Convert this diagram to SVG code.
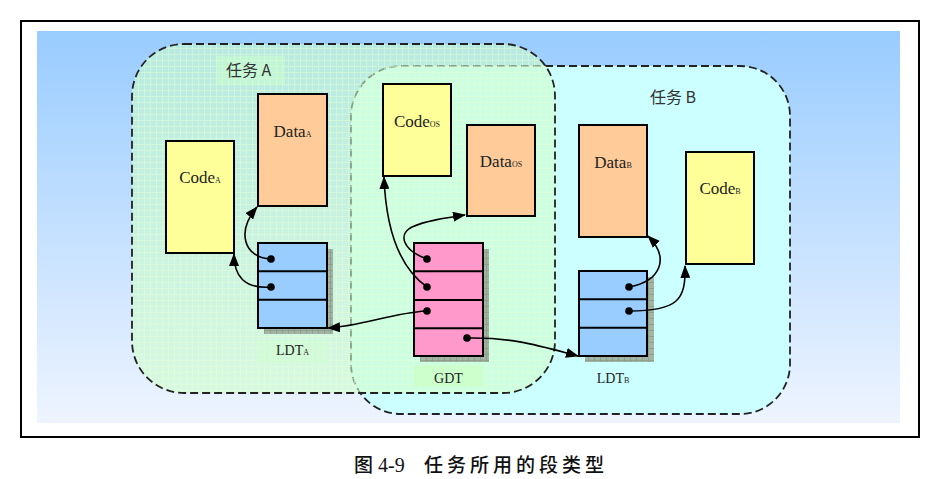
<svg xmlns="http://www.w3.org/2000/svg" width="952" height="479" viewBox="0 0 952 479">
<style>
.box{stroke:#000;stroke-width:2}
.code{fill:#FFFF99}
.data{fill:#FFCC99}
.ldt{fill:#99CCFF}
.gdt{fill:#FF99CC}
.row{stroke:#000;stroke-width:2}
.lbl{font-family:"Liberation Serif","Noto Sans CJK SC",serif;font-size:17px;fill:#222;text-anchor:middle}
.tl{font-family:"Liberation Serif","Noto Sans CJK SC",serif;font-size:14px;fill:#222;text-anchor:middle}
.sub{font-size:8px}
.task{font-family:"Noto Sans CJK SC",serif;font-size:16px;fill:#333}
.dash{fill:none;stroke:#222;stroke-width:1.8;stroke-dasharray:8 4}
.conn{fill:none;stroke:#000;stroke-width:1.6;marker-end:url(#arr)}
.dot{fill:#000}
.shadow{fill:url(#sg)}
</style>
<defs>
<linearGradient id="bg" x1="0" y1="0" x2="0" y2="1">
<stop offset="0" stop-color="#99CCFF"/>
<stop offset="1" stop-color="#EEF4FF"/>
</linearGradient>
<pattern id="grid" width="6" height="6" patternUnits="userSpaceOnUse">
<path d="M0,0.5H6M0.5,0V6" stroke="#E8FFD0" stroke-width="1" opacity="0.45"/>
</pattern>
<pattern id="sg" width="6" height="6" patternUnits="userSpaceOnUse">
<rect width="6" height="6" fill="#A4B4A4"/>
<path d="M0,0.5H6M0.5,0V6" stroke="#8FA08F" stroke-width="1"/>
</pattern>
<marker id="arr" markerWidth="13" markerHeight="10" refX="12" refY="5" orient="auto" markerUnits="userSpaceOnUse">
<path d="M0,0 L13,5 L0,10 z" fill="#000"/>
</marker>
</defs>

<rect x="21" y="21" width="898" height="416" fill="#fff" stroke="#000" stroke-width="2"/>
<rect x="37" y="31" width="863" height="392" fill="url(#bg)"/>

<g id="taskB">
<rect x="351" y="66" width="439" height="348" rx="50" ry="50" fill="#CCFFFF"/>
<rect class="dash" x="351" y="66" width="439" height="348" rx="50" ry="50"/>
</g>
<g id="taskA">
<rect x="132" y="44" width="423" height="349" rx="52" ry="52" fill="#CCFFCC" fill-opacity="0.58"/>
<rect x="132" y="44" width="423" height="349" rx="52" ry="52" fill="url(#grid)"/>
<rect class="dash" x="132" y="44" width="423" height="349" rx="52" ry="52"/>
</g>

<g id="labelTaskA">
<rect x="216" y="56" width="69" height="29" fill="#CCFFCC" fill-opacity="0.5"/>
<text class="task" x="226" y="76">任务 A</text>
</g>
<g id="labelTaskB">
<text class="task" x="650" y="103">任务 B</text>
</g>

<g id="codeA">
<rect class="box code" x="166" y="141" width="68" height="112"/>
<text class="lbl" x="200" y="183">Code<tspan class="sub">A</tspan></text>
</g>
<g id="dataA">
<rect class="box data" x="258" y="94" width="69" height="112"/>
<text class="lbl" x="292.5" y="137">Data<tspan class="sub">A</tspan></text>
</g>
<g id="ldtA">
<rect class="shadow" x="264" y="249" width="69" height="85"/>
<rect class="box ldt" x="258" y="243" width="69" height="85"/>
<path class="row" d="M258,271.3H327M258,299.7H327"/>
<rect x="258" y="340" width="69" height="23" fill="#CCFFCC" fill-opacity="0.4"/>
<text class="tl" x="292.5" y="355">LDT<tspan class="sub">A</tspan></text>
</g>
<g id="codeOS">
<rect class="box code" x="383" y="84" width="68" height="92"/>
<text class="lbl" x="417" y="127">Code<tspan class="sub">OS</tspan></text>
</g>
<g id="dataOS">
<rect class="box data" x="467" y="125" width="68" height="91"/>
<text class="lbl" x="501" y="167">Data<tspan class="sub">OS</tspan></text>
</g>
<g id="gdt">
<rect class="shadow" x="420" y="249" width="69" height="113"/>
<rect class="box gdt" x="414" y="243" width="69" height="113"/>
<path class="row" d="M414,271.3H483M414,300H483M414,328.3H483"/>
<rect x="414" y="365" width="69" height="22" fill="#CCFFCC"/>
<text class="tl" x="448.5" y="383">GDT</text>
</g>
<g id="dataB">
<rect class="box data" x="579" y="125" width="68" height="112"/>
<text class="lbl" x="613" y="168">Data<tspan class="sub">B</tspan></text>
</g>
<g id="codeB">
<rect class="box code" x="686" y="152" width="68" height="112"/>
<text class="lbl" x="720" y="194">Code<tspan class="sub">B</tspan></text>
</g>
<g id="ldtB">
<rect class="shadow" x="585" y="277" width="69" height="85"/>
<rect class="box ldt" x="579" y="271" width="68" height="85"/>
<path class="row" d="M579,299.3H647M579,327.7H647"/>
<text class="tl" x="613" y="383">LDT<tspan class="sub">B</tspan></text>
</g>

<g id="connectors">
<path class="conn" d="M271,259 C244,258 236,232 257,207"/>
<path class="conn" d="M271,287 C244,289 234,276 234,254"/>
<path class="conn" d="M426,311 C392,313 362,326 328,328"/>
<path class="conn" d="M427,259 C402,250 398,234 412,227 C425,221 445,218 465,215"/>
<path class="conn" d="M427,287 C400,268 386,232 384,177"/>
<path class="conn" d="M467,338 C512,337 540,346 578,356"/>
<path class="conn" d="M629,287 C661,281 670,258 648,236"/>
<path class="conn" d="M629,311 C678,311 686,300 685,266"/>
<circle class="dot" cx="271" cy="259" r="3.8"/>
<circle class="dot" cx="271" cy="287" r="3.8"/>
<circle class="dot" cx="427" cy="259" r="3.8"/>
<circle class="dot" cx="427" cy="287" r="3.8"/>
<circle class="dot" cx="427" cy="311" r="3.8"/>
<circle class="dot" cx="467" cy="338" r="3.8"/>
<circle class="dot" cx="629" cy="287" r="3.8"/>
<circle class="dot" cx="629" cy="311" r="3.8"/>
</g>

<g id="caption">
<text font-family="&quot;Noto Sans CJK SC&quot;,sans-serif" font-size="19" font-weight="500" fill="#111" y="472"><tspan x="354">图</tspan><tspan x="378" font-family="&quot;Liberation Serif&quot;,serif" font-weight="normal" font-size="20">4-9</tspan><tspan x="424" letter-spacing="4">任务所用的段类型</tspan></text>
</g>
</svg>
